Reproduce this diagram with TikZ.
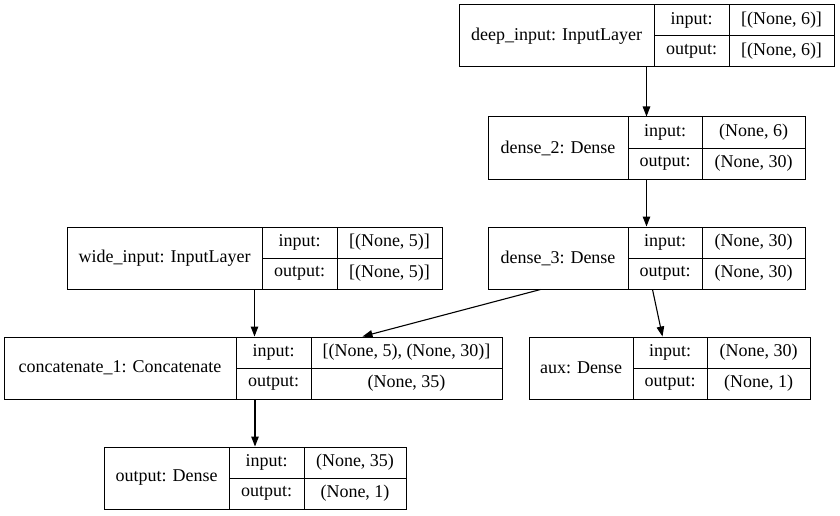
\documentclass[tikz,border=0pt]{standalone}
\usepackage{fontspec}
\setmainfont{Liberation Serif}
\usepackage{tikz}
\usetikzlibrary{arrows.meta}

\tikzset{
  cell/.style={draw, rectangle, line width=1pt, inner sep=0pt, minimum height=31,
    font=\fontsize{18}{21}\selectfont},
  box/.style={draw, rectangle, line width=1pt, inner sep=0pt, minimum height=62},
  edge/.style={line width=1.1pt, -{Triangle[length=10pt, width=7.5pt]}}
}

% #1 id, #2 left, #3 first divider, #4 second divider, #5 right, #6 top,
% #7 layer name, #8 input shape, #9 output shape
\newcommand{\kerasnode}[9]{%
  \node[box, minimum width={#5-#2}] (#1) at ({(#2+#5)/2},{#6+31}) {};
  \node[cell, minimum width={#3-#2}, minimum height=62] (#1-name) at ({(#2+#3)/2},{#6+31}) {#7};
  \node[cell, minimum width={#4-#3}] (#1-inl) at ({(#3+#4)/2},{#6+15.5}) {input:};
  \node[cell, minimum width={#4-#3}] (#1-outl) at ({(#3+#4)/2},{#6+46.5}) {output:};
  \node[cell, minimum width={#5-#4}] (#1-inv) at ({(#4+#5)/2},{#6+15.5}) {#8};
  \node[cell, minimum width={#5-#4}] (#1-outv) at ({(#4+#5)/2},{#6+46.5}) {#9};
}

\begin{document}
\begin{tikzpicture}[x=1pt, y=-1pt]
    \useasboundingbox (0,0) rectangle (840,516);

    % Capas
    \kerasnode{deep}{459}{654}{729}{834}{5}{deep\_input: InputLayer}{[(None, 6)]}{[(None, 6)]}
    \kerasnode{dense2}{488}{628}{702}{805}{117}{dense\_2: Dense}{(None, 6)}{(None, 30)}
    \kerasnode{wide}{67}{262}{337}{442}{227}{wide\_input: InputLayer}{[(None, 5)]}{[(None, 5)]}
    \kerasnode{dense3}{488}{628}{702}{805}{227}{dense\_3: Dense}{(None, 30)}{(None, 30)}
    \kerasnode{concat}{4}{236}{311}{502}{337}{concatenate\_1: Concatenate}{[(None, 5), (None, 30)]}{(None, 35)}
    \kerasnode{aux}{529}{633}{707}{810}{337}{aux: Dense}{(None, 30)}{(None, 1)}
    \kerasnode{out}{104}{229}{304}{406}{447}{output: Dense}{(None, 35)}{(None, 1)}

    % Conexiones
    \draw[edge] (deep) -- (dense2);
    \draw[edge] (dense2) -- (dense3);
    \draw[edge] (wide.south) -- (wide.south |- concat.north);
    \draw[edge] ([xshift=53pt]dense3.south west) -- ([xshift=359pt]concat.north west);
    \draw[edge] ([xshift=165pt]dense3.south west) -- ([xshift=134pt]aux.north west);
    \draw[edge] (concat.south -| out.north) -- (out.north);
\end{tikzpicture}
\end{document}
